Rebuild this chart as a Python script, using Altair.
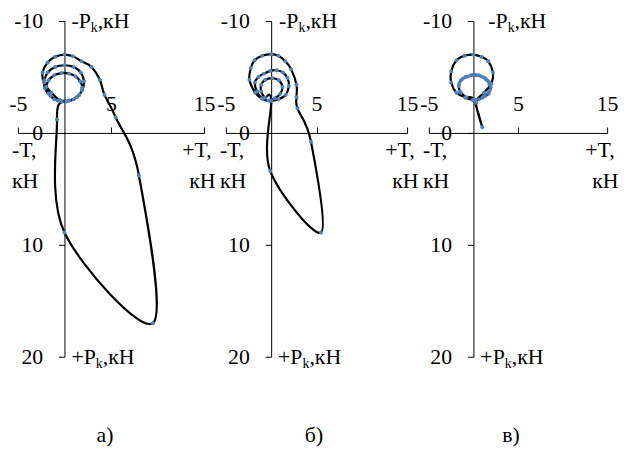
import altair as alt
import pandas as pd

# ---------------- data ----------------
# Panel а)
A_T = [-0.8, -0.3, -1.1, -1.7, -1.95, -1.7, -1.1, -0.3, 0.5, 1.2, 1.7, 1.9, 1.6, 1.0, 0.2,
       -0.7, -1.5, -2.1, -2.15, -1.8, -1.0, 0.0, 1.0, 1.75, 2.1, 1.9, 1.3, 0.5,
       -0.5, -1.4, -2.2, -2.35, -1.8, -1.0, 0.0, 0.9, 1.84, 2.9, 3.8, 4.3, 5.5, 8.0, 9.5, 0.0]
A_PK = [-1.2, -2.8, -3.0, -3.5, -4.1, -4.7, -5.15, -5.35, -5.3, -5.05, -4.6, -4.05, -3.4, -3.0, -2.8,
        -2.9, -3.3, -4.0, -4.7, -5.4, -5.9, -6.05, -5.9, -5.4, -4.6, -3.8, -3.2, -2.9,
        -2.95, -3.6, -4.5, -5.4, -6.3, -6.8, -7.0, -6.85, -6.4, -5.9, -4.75, -3.4, -1.4, 3.8, 17.0, 8.9]

# Panel б)
B_T = [-0.1, 0.0, -0.7, -1.1, -1.1, -0.65, 0.1, 0.85, 1.25, 1.0, 0.4,
       -0.3, -1.0, -1.57, -1.8, -1.4, -0.8, -0.1, 0.6, 1.3, 1.8, 1.95, 1.6, 0.8, -0.1,
       -1.0, -1.76, -2.4, -2.25, -1.83, -1.0, 0.0, 0.8, 1.56, 2.2, 2.8, 2.8, 2.9, 4.4, 5.5]
B_PK = [3.4, -2.9, -3.15, -3.7, -4.3, -4.75, -4.9, -4.7, -4.1, -3.5, -3.1,
        -2.9, -3.1, -3.7, -4.5, -5.0, -5.3, -5.55, -5.6, -5.4, -4.9, -4.2, -3.4, -3.0, -2.85,
        -3.05, -3.6, -4.75, -5.8, -6.5, -6.9, -7.05, -6.9, -6.4, -5.7, -4.3, -3.2, -2.2, 0.8, 8.9]

# Panel в)
C_T = [1.0, 0.05, -0.8, -1.4, -1.65, -1.4, -0.9, -0.3, 0.3, 0.9, 1.4, 1.8, 1.8, 1.3, 0.6,
       -0.1, -0.9, -1.5, -1.6, -1.2, -0.6, 0.0, 0.6, 1.2, 1.7, 1.95, 1.7, 1.0, 0.2,
       -0.9, -1.9, -2.5, -2.5, -1.9, -1.0, 0.0, 0.9, 1.67, 2.2, 2.0, 1.2, 0.3]
C_PK = [-0.5, -2.95, -3.2, -3.6, -4.2, -4.7, -5.0, -5.15, -5.15, -5.05, -4.8, -4.35, -3.8, -3.3, -3.0,
        -2.95, -3.15, -3.7, -4.4, -4.85, -5.05, -5.2, -5.15, -4.95, -4.6, -4.1, -3.5, -3.15, -2.95,
        -3.2, -3.6, -4.5, -5.5, -6.5, -6.9, -7.0, -6.8, -6.4, -5.4, -4.4, -3.6, -2.7]

X_TICKS = [-5, 5, 15]
Y_TICKS = [-10, 0, 10, 20]
X_DOMAIN = [-5, 15]
Y_DOMAIN = [-10, 20]
CAPTIONS = ["а)", "б)", "в)"]
TOP_LABEL = ["-P", "k", ",кН"]
BOTTOM_LABEL = ["+P", "k", ",кН"]
LEFT_LABEL = ["-T,", "кН"]
RIGHT_LABEL = ["+T,", "кН"]

FONT = "Liberation Serif"
FS = 22
H = 339


def make_panel(T, PK, width, caption, cap_x, top_dx):
    df = pd.DataFrame({"T": T, "P": PK, "i": list(range(len(T)))})
    xs = alt.Scale(domain=X_DOMAIN, nice=False, zero=False)
    ys = alt.Scale(domain=Y_DOMAIN, reverse=True, nice=False, zero=False)
    x0 = width * (0 - X_DOMAIN[0]) / (X_DOMAIN[1] - X_DOMAIN[0])
    y0 = H * (0 - Y_DOMAIN[0]) / (Y_DOMAIN[1] - Y_DOMAIN[0])
    common = dict(title=None, grid=False, tickSize=6, labelFlush=False,
                  domainColor="black", tickColor="black", labelColor="black",
                  labelFont=FONT, labelFontSize=FS, domainWidth=1, tickWidth=1,
                  labelExpr="datum.value + ''")
    xax = alt.Axis(orient="top", offset=-y0, values=X_TICKS, labelPadding=12,
                   labelAngle=0, **common)
    yax = alt.Axis(orient="left", offset=-x0, values=Y_TICKS, labelPadding=16,
                   labelAlign="right", labelBaseline="middle", **common)

    base = alt.Chart(df)
    line = base.mark_line(interpolate="cardinal-closed", color="black",
                          strokeWidth=2.2).encode(
        x=alt.X("T:Q", scale=xs, axis=xax),
        y=alt.Y("P:Q", scale=ys, axis=yax),
        order="i:Q",
    )
    pts = base.mark_circle(size=16, color="#4F81BD", opacity=1).encode(
        x=alt.X("T:Q", scale=xs), y=alt.Y("P:Q", scale=ys))

    def txt(s, xv, yv, dx, dy, size=FS):
        d = pd.DataFrame({"T": [xv], "P": [yv], "s": [s]})
        return alt.Chart(d).mark_text(
            align="left", baseline="middle", dx=dx, dy=dy, font=FONT,
            fontSize=size, color="black").encode(
            x=alt.X("T:Q", scale=xs), y=alt.Y("P:Q", scale=ys), text="s:N")

    w_top = 0.889 * FS
    w_bot = 1.12 * FS
    layers = [line, pts,
              txt(TOP_LABEL[0], 0, Y_DOMAIN[0], top_dx, 0),
              txt(TOP_LABEL[1], 0, Y_DOMAIN[0], top_dx + w_top, 7, 14),
              txt(TOP_LABEL[2], 0, Y_DOMAIN[0], top_dx + w_top + 7, 0),
              txt(BOTTOM_LABEL[0], 0, Y_DOMAIN[1], 7, 0),
              txt(BOTTOM_LABEL[1], 0, Y_DOMAIN[1], 7 + w_bot, 7, 14),
              txt(BOTTOM_LABEL[2], 0, Y_DOMAIN[1], 7 + w_bot + 7, 0),
              txt(LEFT_LABEL[0], X_DOMAIN[0], 0, -6, 17),
              txt(LEFT_LABEL[1], X_DOMAIN[0], 0, -6, 49),
              txt(RIGHT_LABEL[0], X_DOMAIN[1], 0, -22, 17),
              txt(RIGHT_LABEL[1], X_DOMAIN[1], 0, -15, 49)]
    cap = alt.Chart(pd.DataFrame({"s": [caption]})).mark_text(
        align="center", baseline="middle", font=FONT, fontSize=FS, color="black"
    ).encode(x=alt.value(cap_x), y=alt.value(418), text="s:N")
    layers.append(cap)
    return alt.layer(*layers).properties(width=width, height=H)


pa = make_panel(A_T, A_PK, 188, CAPTIONS[0], 88, 7)
pb = make_panel(B_T, B_PK, 183, CAPTIONS[1], 89, 8)
pc = make_panel(C_T, C_PK, 180, CAPTIONS[2], 83, 15)

chart = alt.hconcat(pa, pb, pc, spacing=22, bounds="flush").configure_view(
    stroke=None
).properties(
    padding={"left": 0, "top": 0, "right": 0, "bottom": 0},
    background="white")

chart.save("out.html", embed_options={"renderer": "svg", "actions": False})
